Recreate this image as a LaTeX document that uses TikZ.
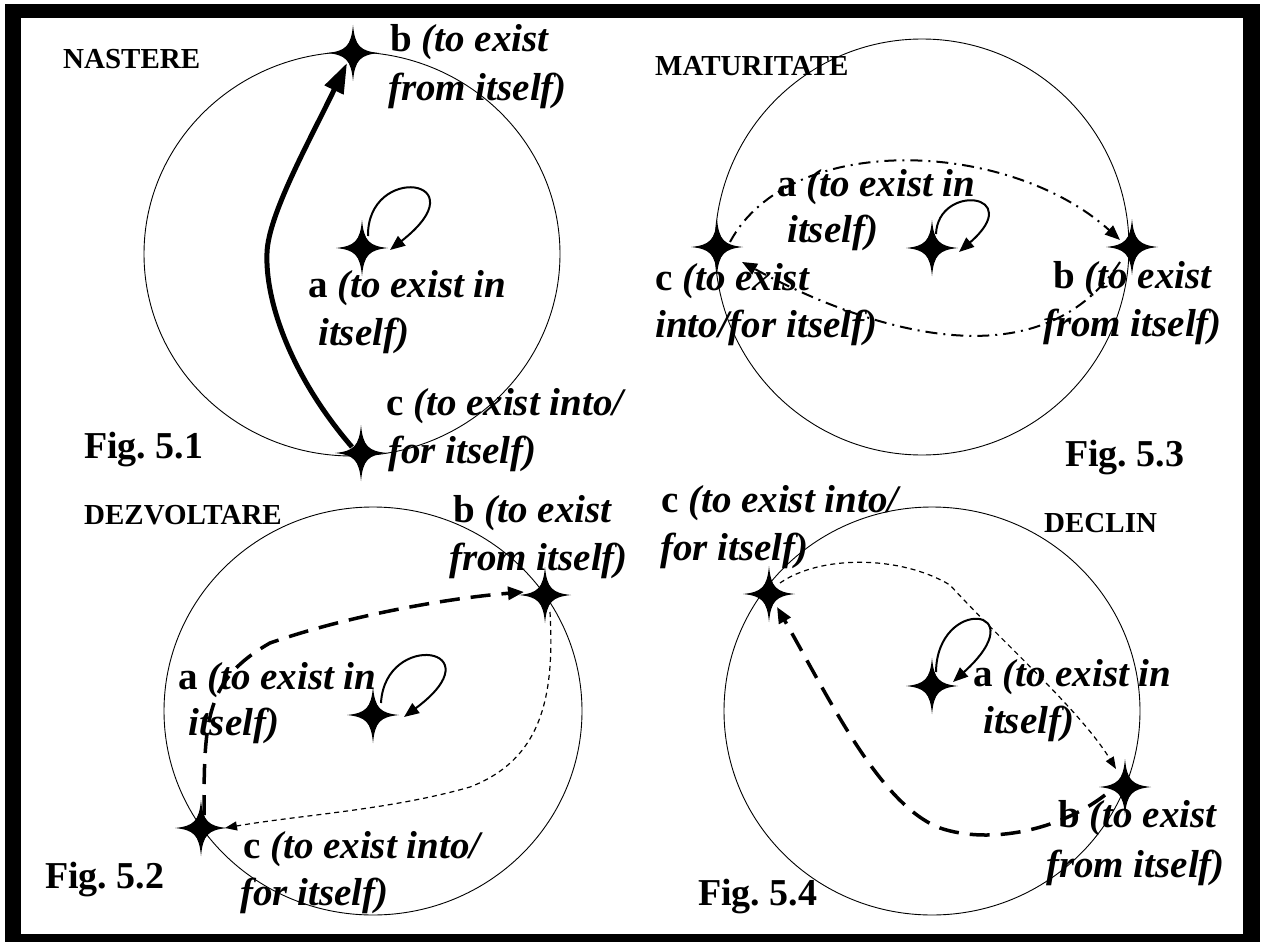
\documentclass[tikz,border=0pt]{standalone}
\usepackage{fontspec}
\setmainfont{Liberation Serif}[BoldFont={Liberation Serif Bold},ItalicFont={Liberation Serif Italic},BoldItalicFont={Liberation Serif Bold Italic}]
\usetikzlibrary{arrows.meta}
\frenchspacing
\begin{document}
\begin{tikzpicture}[x=1pt,y=-1pt,
  lbl/.style={anchor=base west,inner sep=0pt,font=\fontsize{39}{48}\selectfont\bfseries\itshape},
  ttl/.style={anchor=base west,inner sep=0pt,font=\fontsize{29}{35}\selectfont\bfseries},
  figlbl/.style={anchor=base west,inner sep=0pt,font=\fontsize{38}{46}\selectfont\bfseries},
  ring/.style={draw=black,line width=0.9pt},
  selfloop/.style={line width=2pt,-{Triangle[length=15pt,width=12pt]}},
  thickarrow/.style={line width=5pt,-{Triangle[length=30pt,width=20pt]}},
  dashdotarrow/.style={line width=2pt,dash pattern=on 12pt off 6pt on 2pt off 6pt,-{Triangle[length=15pt,width=12pt]}},
  bigdash/.style={line width=3.5pt,dash pattern=on 20pt off 11pt,-{Triangle[length=16pt,width=13pt]}},
  smalldash/.style={line width=1.2pt,dash pattern=on 5pt off 4pt,-{Triangle[length=12pt,width=9pt]}},
  star4/.pic={\fill (0,-28) .. controls (2,-7) and (7,-2) .. (26,0) .. controls (7,2) and (2,7) .. (0,28) .. controls (-2,7) and (-7,2) .. (-26,0) .. controls (-7,-2) and (-2,-7) .. cycle;}
]
\useasboundingbox (0,0) rectangle (1262,942);
\fill[white] (0,0) rectangle (1262,942);
\fill[black] (5,4) rectangle (1260,942);
\fill[white] (21,18) rectangle (1243,934);

% ---------- Fig 5.1 ----------
\draw[ring] (352,254) ellipse [x radius=208, y radius=202];
\coordinate (b1) at (353,53);
\coordinate (a1) at (362,248);
\coordinate (c1) at (361,453);
\pic at (b1) {star4};
\pic at (a1) {star4};
\pic at (c1) {star4};
\draw[thickarrow] ([shift={(-9,-6)}]c1) .. controls (290,375) and (265,300) .. (267,253) .. controls (268,215) and (310,140) .. ([shift={(-6,10)}]b1);
\draw[selfloop] ([shift={(6,-12)}]a1) .. controls +(-1,-73) and +(92,-72) .. ([shift={(28,2)}]a1);
\node[ttl] (t1) at (63,69) {NASTERE};
\node[lbl] (b1l1) at (390,52) {\textup{b} (to exist};
\node[lbl] (b1l2) at (388,100) {from itself)};
\node[lbl] (a1l1) at (308,297) {\textup{a} (to exist in};
\node[lbl] (a1l2) at (318,345) {itself)};
\node[lbl] (c1l1) at (386,415) {\textup{c} (to exist into/};
\node[lbl] (c1l2) at (388,463) {for itself)};
\node[figlbl] (f1) at (84,458) {Fig. 5.1};

% ---------- Fig 5.3 ----------
\draw[ring] (922,247) ellipse [x radius=207, y radius=208];
\coordinate (c3) at (717,247);
\coordinate (a3) at (932,248);
\coordinate (b3) at (1132,247);
\pic at (c3) {star4};
\pic at (a3) {star4};
\pic at (b3) {star4};
\draw[dashdotarrow] ([shift={(13,-5)}]c3) .. controls (790,130) and (1010,140) .. ([shift={(-12,-7)}]b3);
\draw[dashdotarrow] ([shift={(-12,15)}]b3) .. controls (1030,400) and (830,310) .. ([shift={(25,15)}]c3);
\draw[selfloop] ([shift={(4,-14)}]a3) .. controls +(2,-51) and +(68,-59) .. ([shift={(27,4)}]a3);
\node[ttl] (t3) at (655,76) {MATURITATE};
\node[lbl] (a3l1) at (777,196) {\textup{a} (to exist in};
\node[lbl] (a3l2) at (787,242) {itself)};
\node[lbl] (c3l1) at (655,290) {\textup{c} (to exist};
\node[lbl] (c3l2) at (655,337) {into/for itself)};
\node[lbl] (b3l1) at (1053,288) {\textup{b} (to exist};
\node[lbl] (b3l2) at (1043,336) {from itself)};
\node[figlbl] (f3) at (1065,466) {Fig. 5.3};

% ---------- Fig 5.2 ----------
\draw[ring] (373,711) ellipse [x radius=209, y radius=204];
\coordinate (b2) at (545,595);
\coordinate (a2) at (373,715);
\coordinate (c2) at (201,828);
\pic at (b2) {star4};
\pic at (a2) {star4};
\pic at (c2) {star4};
\draw[bigdash] ([shift={(3,-13)}]c2) .. controls (204,720) and (205,680) .. (270,643) .. controls (350,615) and (450,598) .. ([shift={(-21,-3)}]b2);
\draw[smalldash] ([shift={(5,17)}]b2) .. controls (555,700) and (540,760) .. (470,787) .. controls (390,810) and (300,815) .. ([shift={(24,0)}]c2);
\draw[selfloop] ([shift={(8,-12)}]a2) .. controls +(4,-73) and +(94,-70) .. ([shift={(31,2)}]a2);
\node[ttl] (t2) at (84,524) {DEZVOLTARE};
\node[lbl] (b2l1) at (453,522) {\textup{b} (to exist};
\node[lbl] (b2l2) at (449,570) {from itself)};
\node[lbl] (a2l1) at (178,689) {\textup{a} (to exist in};
\node[lbl] (a2l2) at (188,735) {itself)};
\node[lbl] (c2l1) at (243,858) {\textup{c} (to exist into/};
\node[lbl] (c2l2) at (240,905) {for itself)};
\node[figlbl] (f2) at (45,888) {Fig. 5.2};

% ---------- Fig 5.4 ----------
\draw[ring] (932,711) ellipse [x radius=208, y radius=204];
\coordinate (c4) at (769,594);
\coordinate (a4) at (932,686);
\coordinate (b4) at (1125,787);
\pic at (c4) {star4};
\pic at (a4) {star4};
\pic at (b4) {star4};
\draw[bigdash] ([shift={(-20,8)}]b4) .. controls (1060,830) and (990,845) .. (940,828) .. controls (880,805) and (830,700) .. ([shift={(8,13)}]c4);
\draw[smalldash] ([shift={(11,-11)}]c4) .. controls (820,555) and (900,555) .. (950,585) .. controls (1000,640) and (1080,710) .. ([shift={(-9,-18)}]b4);
\draw[selfloop] ([shift={(4,-14)}]a4) .. controls +(1,-76) and +(84,-76) .. ([shift={(21,-4)}]a4);
\node[ttl] (t4) at (1044,532) {DECLIN};
\node[lbl] (c4l1) at (661,512) {\textup{c} (to exist into/};
\node[lbl] (c4l2) at (660,560) {for itself)};
\node[lbl] (a4l1) at (973,686) {\textup{a} (to exist in};
\node[lbl] (a4l2) at (983,733) {itself)};
\node[lbl] (b4l1) at (1058,827) {\textup{b} (to exist};
\node[lbl] (b4l2) at (1046,877) {from itself)};
\node[figlbl] (f4) at (698,905) {Fig. 5.4};
\end{tikzpicture}
\end{document}
